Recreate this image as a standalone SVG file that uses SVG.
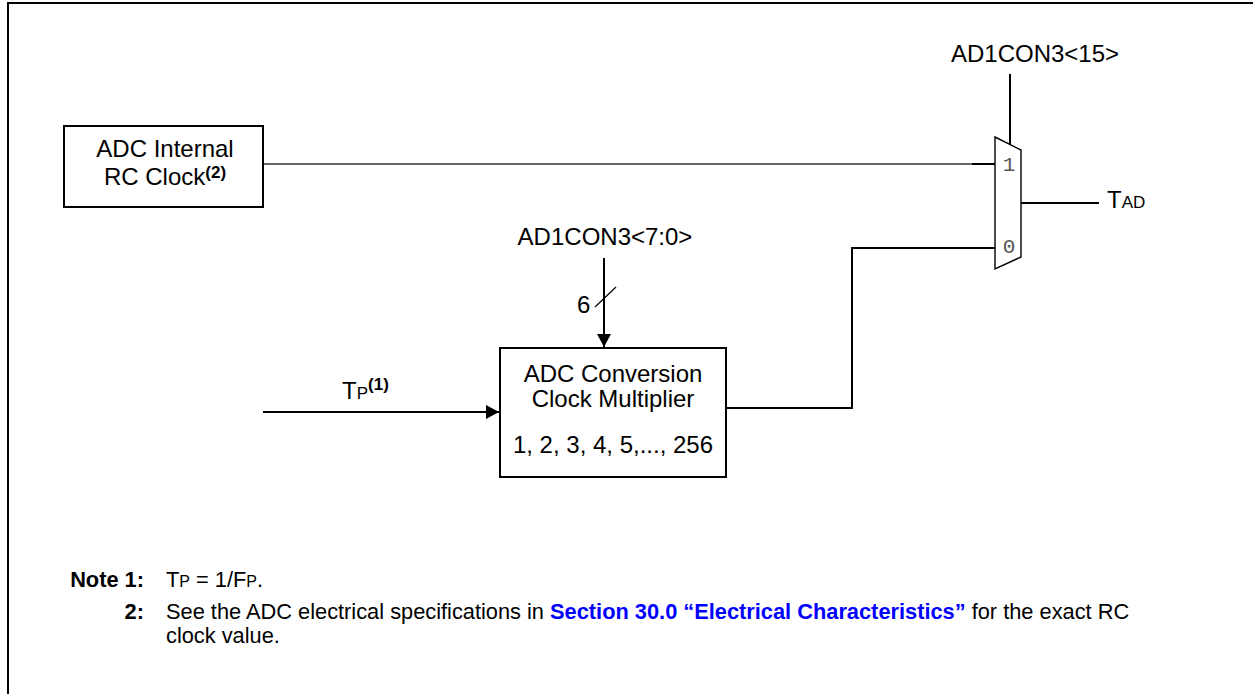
<svg xmlns="http://www.w3.org/2000/svg" width="1253" height="694" viewBox="0 0 1253 694">
<style>
text{font-family:"Liberation Sans",Arial,sans-serif;fill:#000}
.lbl{font-size:24px}
.sm{font-size:17px}
.sup{font-size:17px;font-weight:bold}
.note{font-size:21.8px}
.b{font-weight:bold}
.link{font-weight:bold;fill:#0000ff}
.mono{font-family:"Liberation Mono","Courier New",monospace;font-size:21px;fill:#555}
.box{fill:#fff;stroke:#000;stroke-width:2}
.w{fill:none;stroke:#000;stroke-width:2}
</style>
<defs>
<marker id="ah" markerWidth="14" markerHeight="14" refX="13" refY="7" orient="auto" markerUnits="userSpaceOnUse">
<path d="M0,0 L13,7 L0,14 Z" fill="#000"/>
</marker>
</defs>
<rect width="1253" height="694" fill="#fff"/>
<path d="M8,694 V3 H1253" fill="none" stroke="#000" stroke-width="2"/>

<g id="connectors">
<line x1="263" y1="164" x2="972" y2="164" stroke="#333" stroke-width="1.3"/>
<line x1="972" y1="164" x2="995" y2="164" class="w"/>
<polyline points="726,408 852,408 852,248 995,248" class="w"/>
<line x1="1010" y1="74" x2="1010" y2="144" class="w"/>
<line x1="1021" y1="203" x2="1099" y2="203" class="w"/>
<line x1="604" y1="258" x2="604" y2="347" class="w" marker-end="url(#ah)"/>
<line x1="595" y1="307" x2="616" y2="287" stroke="#000" stroke-width="1.2"/>
<line x1="263" y1="412" x2="499" y2="412" class="w" marker-end="url(#ah)"/>
</g>

<g id="rc-clock">
<rect x="64" y="126" width="199" height="81" class="box"/>
<text x="165" y="157" text-anchor="middle" class="lbl">ADC Internal</text>
<text x="165" y="185" text-anchor="middle" class="lbl">RC Clock<tspan class="sup" dy="-7">(2)</tspan></text>
</g>

<g id="multiplier">
<rect x="500" y="348" width="226" height="129" class="box"/>
<text x="613" y="382" text-anchor="middle" class="lbl">ADC Conversion</text>
<text x="613" y="407" text-anchor="middle" class="lbl">Clock Multiplier</text>
<text x="613" y="453" text-anchor="middle" class="lbl">1, 2, 3, 4, 5,..., 256</text>
</g>

<g id="mux">
<polygon points="995,137 1021,150 1021,257 995,269" fill="#fff" stroke="#000" stroke-width="1.4"/>
<text x="1009" y="171" text-anchor="middle" class="mono">1</text>
<text x="1009" y="253" text-anchor="middle" class="mono">0</text>
</g>

<g id="labels">
<text x="1035" y="62" text-anchor="middle" class="lbl">AD1CON3&lt;15&gt;</text>
<text x="605" y="245" text-anchor="middle" class="lbl">AD1CON3&lt;7:0&gt;</text>
<text x="577" y="313" class="lbl">6</text>
<text x="1107" y="208" class="lbl">T<tspan class="sm">AD</tspan></text>
<text x="342" y="399" class="lbl">T<tspan class="sm">P</tspan><tspan class="sup" dy="-9">(1)</tspan></text>
</g>

<g id="notes">
<text x="144" y="587" text-anchor="end" class="note b">Note 1:</text>
<text x="166" y="587" class="note">T<tspan font-size="16">P</tspan> = 1/F<tspan font-size="16">P</tspan>.</text>
<text x="144" y="619" text-anchor="end" class="note b">2:</text>
<text x="166" y="619" class="note">See the ADC electrical specifications in <tspan class="link">Section 30.0 “Electrical Characteristics”</tspan> for the exact RC</text>
<text x="166" y="643" class="note">clock value.</text>
</g>
</svg>
